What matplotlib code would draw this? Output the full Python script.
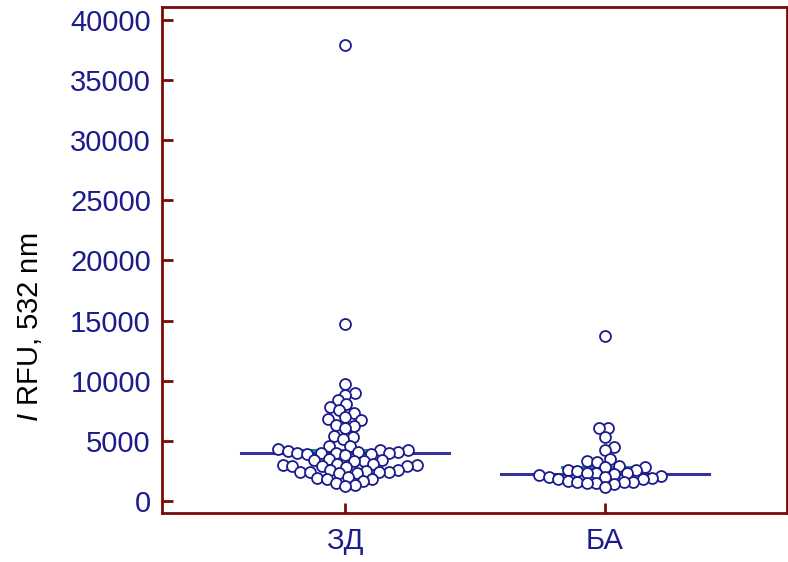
import matplotlib
matplotlib.use("Agg")
import matplotlib.pyplot as plt
import numpy as np

plt.rcParams['font.family'] = ['Liberation Sans', 'DejaVu Sans']
plt.rcParams['mathtext.fontset'] = 'custom'
plt.rcParams['mathtext.it'] = 'Liberation Sans:italic'
plt.rcParams['mathtext.rm'] = 'Liberation Sans'

# data
groups = ['ЗД', 'БА']
zd_values = [37900, 14700, 9700, 9000, 8850, 8400, 8050, 7800, 7550, 7300,
             6950, 6800, 6750, 6300, 6200, 6050, 5400, 5300, 5150, 4600, 4550,
             4300, 4250, 4200, 4150, 4100, 4050, 4000, 4000, 3950, 3950, 3900,
             3900, 3850,
             3450, 3400, 3400, 3350, 3300, 3100, 3050, 3000, 3000, 2950, 2900,
             2900, 2850,
             2600, 2550, 2500, 2450, 2450, 2400, 2400, 2350, 2300,
             2000, 1900, 1850, 1800, 1700, 1500, 1300, 1250]
ba_values = [13700, 6100, 6100, 5350, 4500, 4200, 3500, 3300, 3200, 2950,
             2850, 2800, 2600, 2550, 2500, 2300, 2300, 2300, 2250, 2150, 2100,
             2000, 2000, 1900, 1800, 1800, 1700, 1600, 1550, 1550, 1500, 1500,
             1450, 1200]
medians = [3970, 2220]
means = [4200, 2800]
yticks = np.arange(0, 40001, 5000)

NAVY = '#1c1c8c'
LINE_BLUE = '#33339a'
TEAL = '#1f8a8a'
MAROON = '#7a0a0a'


def swarm_x(ax, x0, values, diameter):
    """Simple beeswarm layout in pixel space, returns x positions in data units."""
    trans = ax.transData
    pts = trans.transform(np.column_stack([np.full(len(values), x0), values]))
    xc = pts[0, 0]
    ys = pts[:, 1]
    placed = []
    xs = np.zeros(len(values))
    for i in np.argsort(ys):
        y = ys[i]
        near = [(px, py) for px, py in placed if abs(py - y) < diameter]
        cands = [0.0]
        for px, py in near:
            dx = np.sqrt(diameter ** 2 - (py - y) ** 2)
            cands += [px + dx, px - dx]
        cands.sort(key=abs)
        for c in cands:
            if all((c - px) ** 2 + (y - py) ** 2 >= diameter ** 2 - 1e-6 for px, py in near):
                break
        placed.append((c, y))
        xs[i] = xc + c
    return trans.inverted().transform(np.column_stack([xs, ys]))[:, 0]


fig = plt.figure(figsize=(7.88, 5.62), dpi=100)
ax = fig.add_axes([162 / 788, 49 / 562, 625 / 788, 506 / 562])
ax.set_xlim(0.296, 2.70)
ax.set_ylim(-1000, 41080)

for i, vals in enumerate([zd_values, ba_values]):
    x0 = i + 1
    ax.plot([x0 - 0.4, x0 + 0.4], [medians[i], medians[i]], color=LINE_BLUE,
            lw=2.2, zorder=2)
    ax.plot([x0 - 0.165, x0 + 0.165], [means[i], means[i]], color=TEAL,
            lw=2.2, zorder=1.5)
    xs = swarm_x(ax, x0, np.array(vals, dtype=float), 9.6)
    ax.scatter(xs, vals, s=62, facecolor='white', edgecolor=NAVY,
               linewidth=1.3, zorder=3)

ax.set_xticks([1, 2])
ax.set_xticklabels(groups)
ax.set_yticks(yticks)
ax.set_yticklabels([str(t) for t in yticks])
ax.tick_params(axis='both', direction='in', colors=MAROON, width=2,
               labelcolor=NAVY, labelsize=21)
ax.tick_params(axis='y', length=8, pad=8)
ax.tick_params(axis='x', length=7, pad=10)
for sp in ax.spines.values():
    sp.set_color(MAROON)
    sp.set_linewidth(2)

fig.text(30 / 788, 1 - 327 / 562, r'$\mathit{I}$ RFU, 532 nm', rotation=90,
         ha='center', va='center', fontsize=21, color='black')

fig.savefig('out.png', dpi=100)
